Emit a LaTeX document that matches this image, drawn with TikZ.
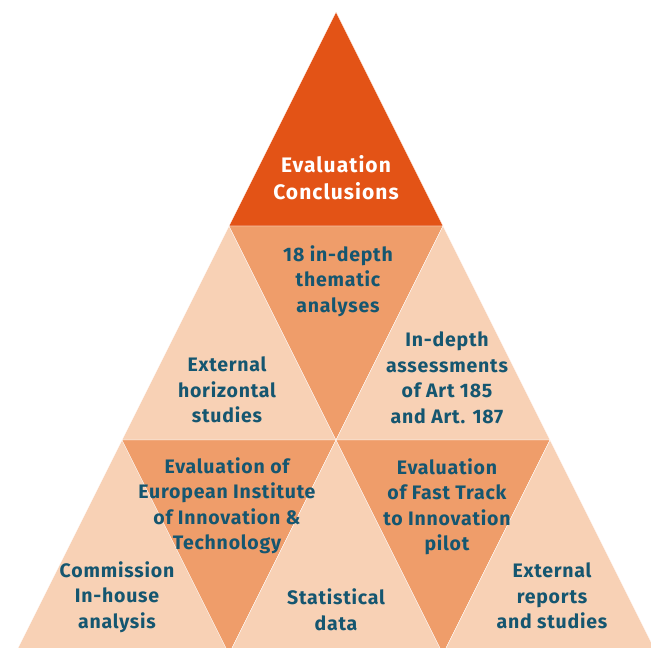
\documentclass[tikz,border=0pt]{standalone}
\usepackage{fontspec}
\setmainfont{Fira Sans}[LetterSpace=4]
\newfontfamily\wideheading{Fira Sans}[LetterSpace=5]
\usepackage{xcolor}
\usepackage{tikz}
\usetikzlibrary{positioning}
\definecolor{ecdark}{RGB}{227,83,22}
\definecolor{ecmid}{RGB}{239,157,106}
\definecolor{eclight}{RGB}{248,209,181}
\definecolor{ectext}{RGB}{21,86,112}
\tikzstyle{darkpart} = [fill=ecdark, draw=white, line width=0.4pt]
\tikzstyle{midpart} = [fill=ecmid, draw=white, line width=0.4pt]
\tikzstyle{lightpart} = [fill=eclight, draw=white, line width=0.4pt]
\tikzstyle{toplabel} = [align=center, text=white, font=\wideheading\bfseries\fontsize{21}{27}\selectfont]
\tikzstyle{label} = [align=center, text=ectext, font=\bfseries\fontsize{19.5}{25.5}\selectfont]

\begin{document}
\begin{tikzpicture}[x=1pt, y=-1pt]
\useasboundingbox (0,0) rectangle (651,648);
\clip (0,0) rectangle (651,648);

% Corners of the pyramid
\coordinate (apex) at (336,12);
\coordinate (l1) at (229,226);
\coordinate (r1) at (443,226);
\coordinate (l2) at (122,440);
\coordinate (m2) at (336,440);
\coordinate (r2) at (550,440);
\coordinate (l3) at (15,654);
\coordinate (a3) at (229,654);
\coordinate (b3) at (443,654);
\coordinate (r3) at (657,654);

% Top
\draw [darkpart] (apex) -- (l1) -- (r1) -- cycle;

% Middle row
\draw [lightpart] (l1) -- (l2) -- (m2) -- cycle;
\draw [midpart] (l1) -- (r1) -- (m2) -- cycle;
\draw [lightpart] (r1) -- (m2) -- (r2) -- cycle;

% Bottom row
\draw [lightpart] (l2) -- (l3) -- (a3) -- cycle;
\draw [midpart] (l2) -- (m2) -- (a3) -- cycle;
\draw [lightpart] (m2) -- (a3) -- (b3) -- cycle;
\draw [midpart] (m2) -- (r2) -- (b3) -- cycle;
\draw [lightpart] (r2) -- (b3) -- (r3) -- cycle;

% Labels
\node (concl) [toplabel] at (336,178) {Evaluation\\Conclusions};
\node (thematic) [label] at (338,281) {18 in-depth\\thematic\\analyses};
\node (horiz) [label] at (227,390) {External\\horizontal\\studies};
\node (art) [label] at (447,378) {In-depth\\assessments\\of Art 185\\and Art. 187};
\node (eit) [label] at (227,506) {Evaluation of\\European Institute\\of Innovation \&\\Technology};
\node (inhouse) [label] at (117,597) {Commission\\In-house\\analysis};
\node (stats) [label] at (336,610) {Statistical\\data};
\node (ftri) [label] at (447,507) {Evaluation\\of Fast Track\\to Innovation\\pilot};
\node (reports) [label] at (552,596) {External\\reports\\and studies};

\end{tikzpicture}
\end{document}
